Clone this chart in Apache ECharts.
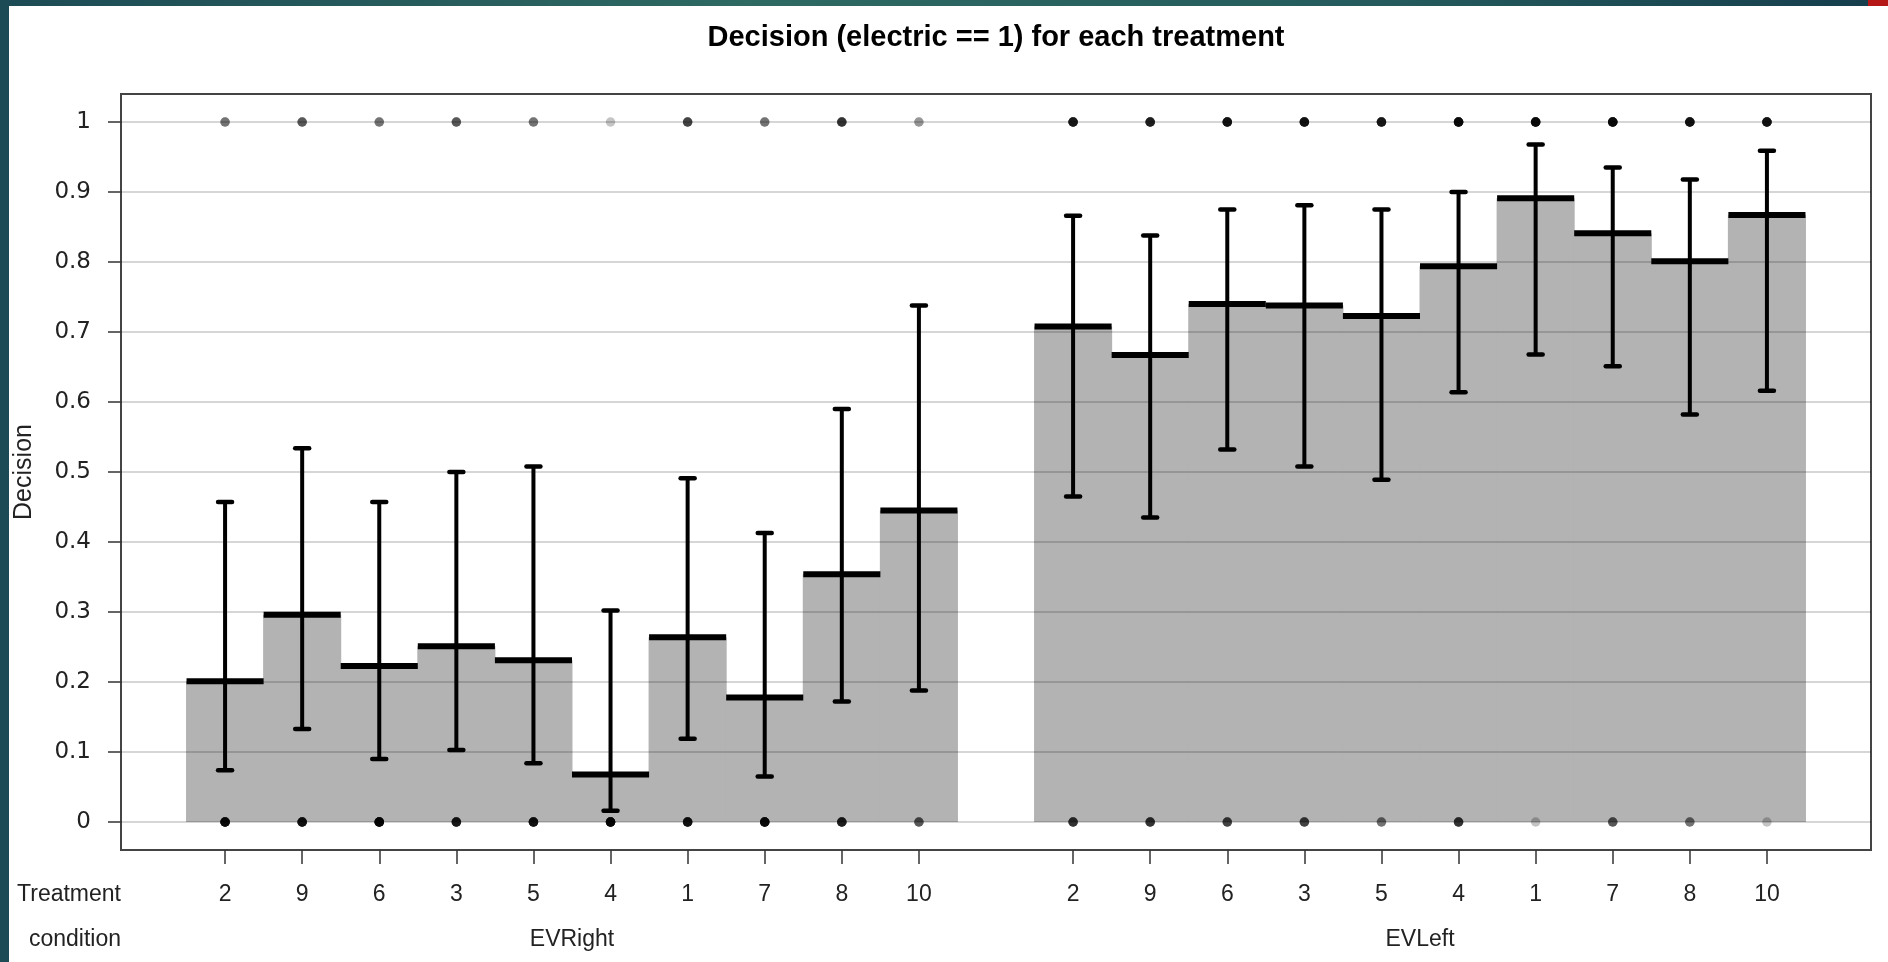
<!DOCTYPE html>
<html><head><meta charset="utf-8">
<script src="https://cdn.jsdelivr.net/npm/echarts@6/dist/echarts.min.js"></script>
<style>html,body{margin:0;padding:0;background:#fff;overflow:hidden}#c{width:1888px;height:962px}</style>
</head><body><div id="c"></div>
<script>
// ---------- data ----------
const titleText = 'Decision (electric == 1) for each treatment';
const yAxisName = 'Decision';
const rowNames = ['Treatment', 'condition'];
const conditions = ['EVRight', 'EVLeft'];
const treatments = ['2', '9', '6', '3', '5', '4', '1', '7', '8', '10'];
const yTickLabels = ['0', '0.1', '0.2', '0.3', '0.4', '0.5', '0.6', '0.7', '0.8', '0.9', '1'];

const evRightMean  = [0.201, 0.296, 0.223, 0.251, 0.231, 0.068, 0.264, 0.178, 0.354, 0.445];
const evRightLower = [0.074, 0.133, 0.090, 0.103, 0.084, 0.016, 0.119, 0.065, 0.172, 0.188];
const evRightUpper = [0.457, 0.534, 0.457, 0.500, 0.508, 0.302, 0.491, 0.413, 0.590, 0.738];

const evLeftMean  = [0.708, 0.667, 0.740, 0.738, 0.723, 0.794, 0.891, 0.841, 0.801, 0.867];
const evLeftLower = [0.465, 0.435, 0.532, 0.508, 0.489, 0.614, 0.668, 0.651, 0.582, 0.616];
const evLeftUpper = [0.866, 0.838, 0.875, 0.881, 0.875, 0.900, 0.968, 0.935, 0.918, 0.959];

// observed individual decisions (counts of 1s and 0s, estimated from dot darkness)
const evRightOnes  = [3, 4, 3, 4, 3, 1, 5, 3, 6, 2];
const evRightZeros = [12, 10, 14, 9, 10, 14, 10, 12, 8, 4];
const evLeftOnes   = [9, 8, 10, 10, 9, 12, 12, 12, 10, 10];
const evLeftZeros  = [6, 6, 5, 5, 3, 6, 1, 4, 3, 1];

// ---------- build ----------
const groups = [
  {mean: evRightMean, lo: evRightLower, hi: evRightUpper, ones: evRightOnes, zeros: evRightZeros},
  {mean: evLeftMean, lo: evLeftLower, hi: evLeftUpper, ones: evLeftOnes, zeros: evLeftZeros}
];
const slot = treatments.length + 1;
const rows = [], tickPos = [], tickLabel = {}, condPos = [], condLabel = {}, dots = [];
groups.forEach((g, gi) => {
  treatments.forEach((t, i) => {
    const x = gi * slot + i;
    rows.push([x, g.mean[i], g.lo[i], g.hi[i]]);
    tickPos.push(x); tickLabel[x] = t;
    for (let k = 0; k < g.ones[i]; k++) dots.push([x, 1]);
    for (let k = 0; k < g.zeros[i]; k++) dots.push([x, 0]);
  });
  const c = gi * slot + (treatments.length - 1) / 2;
  condPos.push(c); condLabel[c] = conditions[gi];
});
const xMin = -1.35, xMax = (groups.length * slot - 2) + 1.35;

const sans = 'Liberation Sans, Arial, sans-serif';
const chart = echarts.init(document.getElementById('c'));
chart.setOption({
  backgroundColor: '#ffffff',
  animation: false,
  title: {
    text: titleText, left: 991, top: 18, textAlign: 'center',
    textStyle: {fontFamily: sans, fontWeight: 'bold', fontSize: 29, color: '#000'}
  },
  grid: [
    {left: 121, right: 17, top: 94, bottom: 112, show: true, borderColor: '#444', borderWidth: 2, backgroundColor: 'transparent'},
    {left: 121, right: 17, top: 122, bottom: 140}
  ],
  xAxis: [
    {gridIndex: 0, type: 'value', min: xMin, max: xMax, position: 'bottom',
     axisLine: {show: false, onZero: false}, splitLine: {show: false},
     axisTick: {show: true, customValues: tickPos, length: 14, lineStyle: {color: '#333', width: 1.5}},
     axisLabel: {customValues: tickPos, formatter: v => tickLabel[v] ?? '', margin: 33,
       fontFamily: sans, fontSize: 23, color: '#222'}},
    {gridIndex: 0, type: 'value', min: xMin, max: xMax, position: 'bottom',
     axisLine: {show: false, onZero: false},
     splitLine: {show: false}, axisTick: {show: false},
     axisLabel: {customValues: condPos, formatter: v => condLabel[v] ?? '', margin: 78,
       fontFamily: sans, fontSize: 23, color: '#222'}},
    {gridIndex: 1, type: 'value', min: xMin, max: xMax, show: false}
  ],
  yAxis: [
    {gridIndex: 0, type: 'value', min: -0.04, max: 1.04, show: false},
    {gridIndex: 1, type: 'value', min: 0, max: 1, interval: 0.1, z: 3, position: 'left',
     axisLine: {show: false, onZero: false},
     axisTick: {show: true, length: 13, lineStyle: {color: '#333', width: 1.5}},
     axisLabel: {margin: 30, fontFamily: 'DejaVu Sans, sans-serif', fontSize: 23, color: '#222',
       formatter: v => yTickLabels[Math.round(v * 10)]},
     splitLine: {show: true, lineStyle: {color: 'rgba(0,0,0,0.16)', width: 2}},
     name: yAxisName, nameLocation: 'middle', nameGap: 84, nameRotate: 90,
     nameTextStyle: {fontFamily: sans, fontSize: 25, color: '#222'}}
  ],
  graphic: [
    {type: 'rect', left: 0, top: 0, shape: {width: 9, height: 962}, style: {fill: '#1d4b55'}, z: 100},
    {type: 'rect', left: 0, top: 0, shape: {width: 1868, height: 6}, z: 100,
     style: {fill: new echarts.graphic.LinearGradient(0, 0, 1, 0, [
       {offset: 0, color: '#1d4b55'}, {offset: 0.4, color: '#2e6962'},
       {offset: 0.75, color: '#245a5c'}, {offset: 1, color: '#163e4d'}])}},
    {type: 'rect', left: 1868, top: 0, shape: {width: 20, height: 6}, style: {fill: '#b51717'}, z: 100},
    {type: 'text', right: 1888 - 121, top: 895 - 12, z: 10,
     style: {text: rowNames[0], fontFamily: sans, fontSize: 23, fill: '#222', align: 'right'}},
    {type: 'text', right: 1888 - 121, top: 940 - 12, z: 10,
     style: {text: rowNames[1], fontFamily: sans, fontSize: 23, fill: '#222', align: 'right'}}
  ],
  series: [
    {type: 'custom', xAxisIndex: 2, yAxisIndex: 1, z: 1, data: rows,
     encode: {x: 0, y: [1, 2, 3]},
     renderItem: (params, api) => {
       const x = api.value(0), m = api.value(1);
       const a = api.coord([x - 0.5, 0]), b = api.coord([x + 0.5, m]);
       return {type: 'rect', shape: {x: a[0] - 0.5, y: b[1], width: b[0] - a[0] + 1, height: a[1] - b[1]},
               style: {fill: '#b3b3b3'}};
     }},
    {type: 'scatter', xAxisIndex: 2, yAxisIndex: 1, z: 4, data: dots, symbolSize: 9.5,
     itemStyle: {color: '#000', opacity: 0.23}, emphasis: {disabled: true}},
    {type: 'custom', xAxisIndex: 2, yAxisIndex: 1, z: 5, data: rows,
     encode: {x: 0, y: [1, 2, 3]},
     renderItem: (params, api) => {
       const x = api.value(0), m = api.value(1), lo = api.value(2), hi = api.value(3);
       const l = api.coord([x - 0.5, m]), r = api.coord([x + 0.5, m]);
       const pl = api.coord([x, lo]), ph = api.coord([x, hi]);
       const s = {stroke: '#000', lineWidth: 4};
       const cap = {stroke: '#000', lineWidth: 4.5, lineCap: 'round'};
       return {type: 'group', children: [
         {type: 'line', shape: {x1: pl[0], y1: pl[1], x2: ph[0], y2: ph[1]}, style: s},
         {type: 'line', shape: {x1: pl[0] - 7, y1: pl[1], x2: pl[0] + 7, y2: pl[1]}, style: cap},
         {type: 'line', shape: {x1: ph[0] - 7, y1: ph[1], x2: ph[0] + 7, y2: ph[1]}, style: cap},
         {type: 'line', shape: {x1: l[0], y1: l[1], x2: r[0], y2: r[1]}, style: {stroke: '#000', lineWidth: 6}}
       ]};
     }}
  ]
});
</script></body></html>
